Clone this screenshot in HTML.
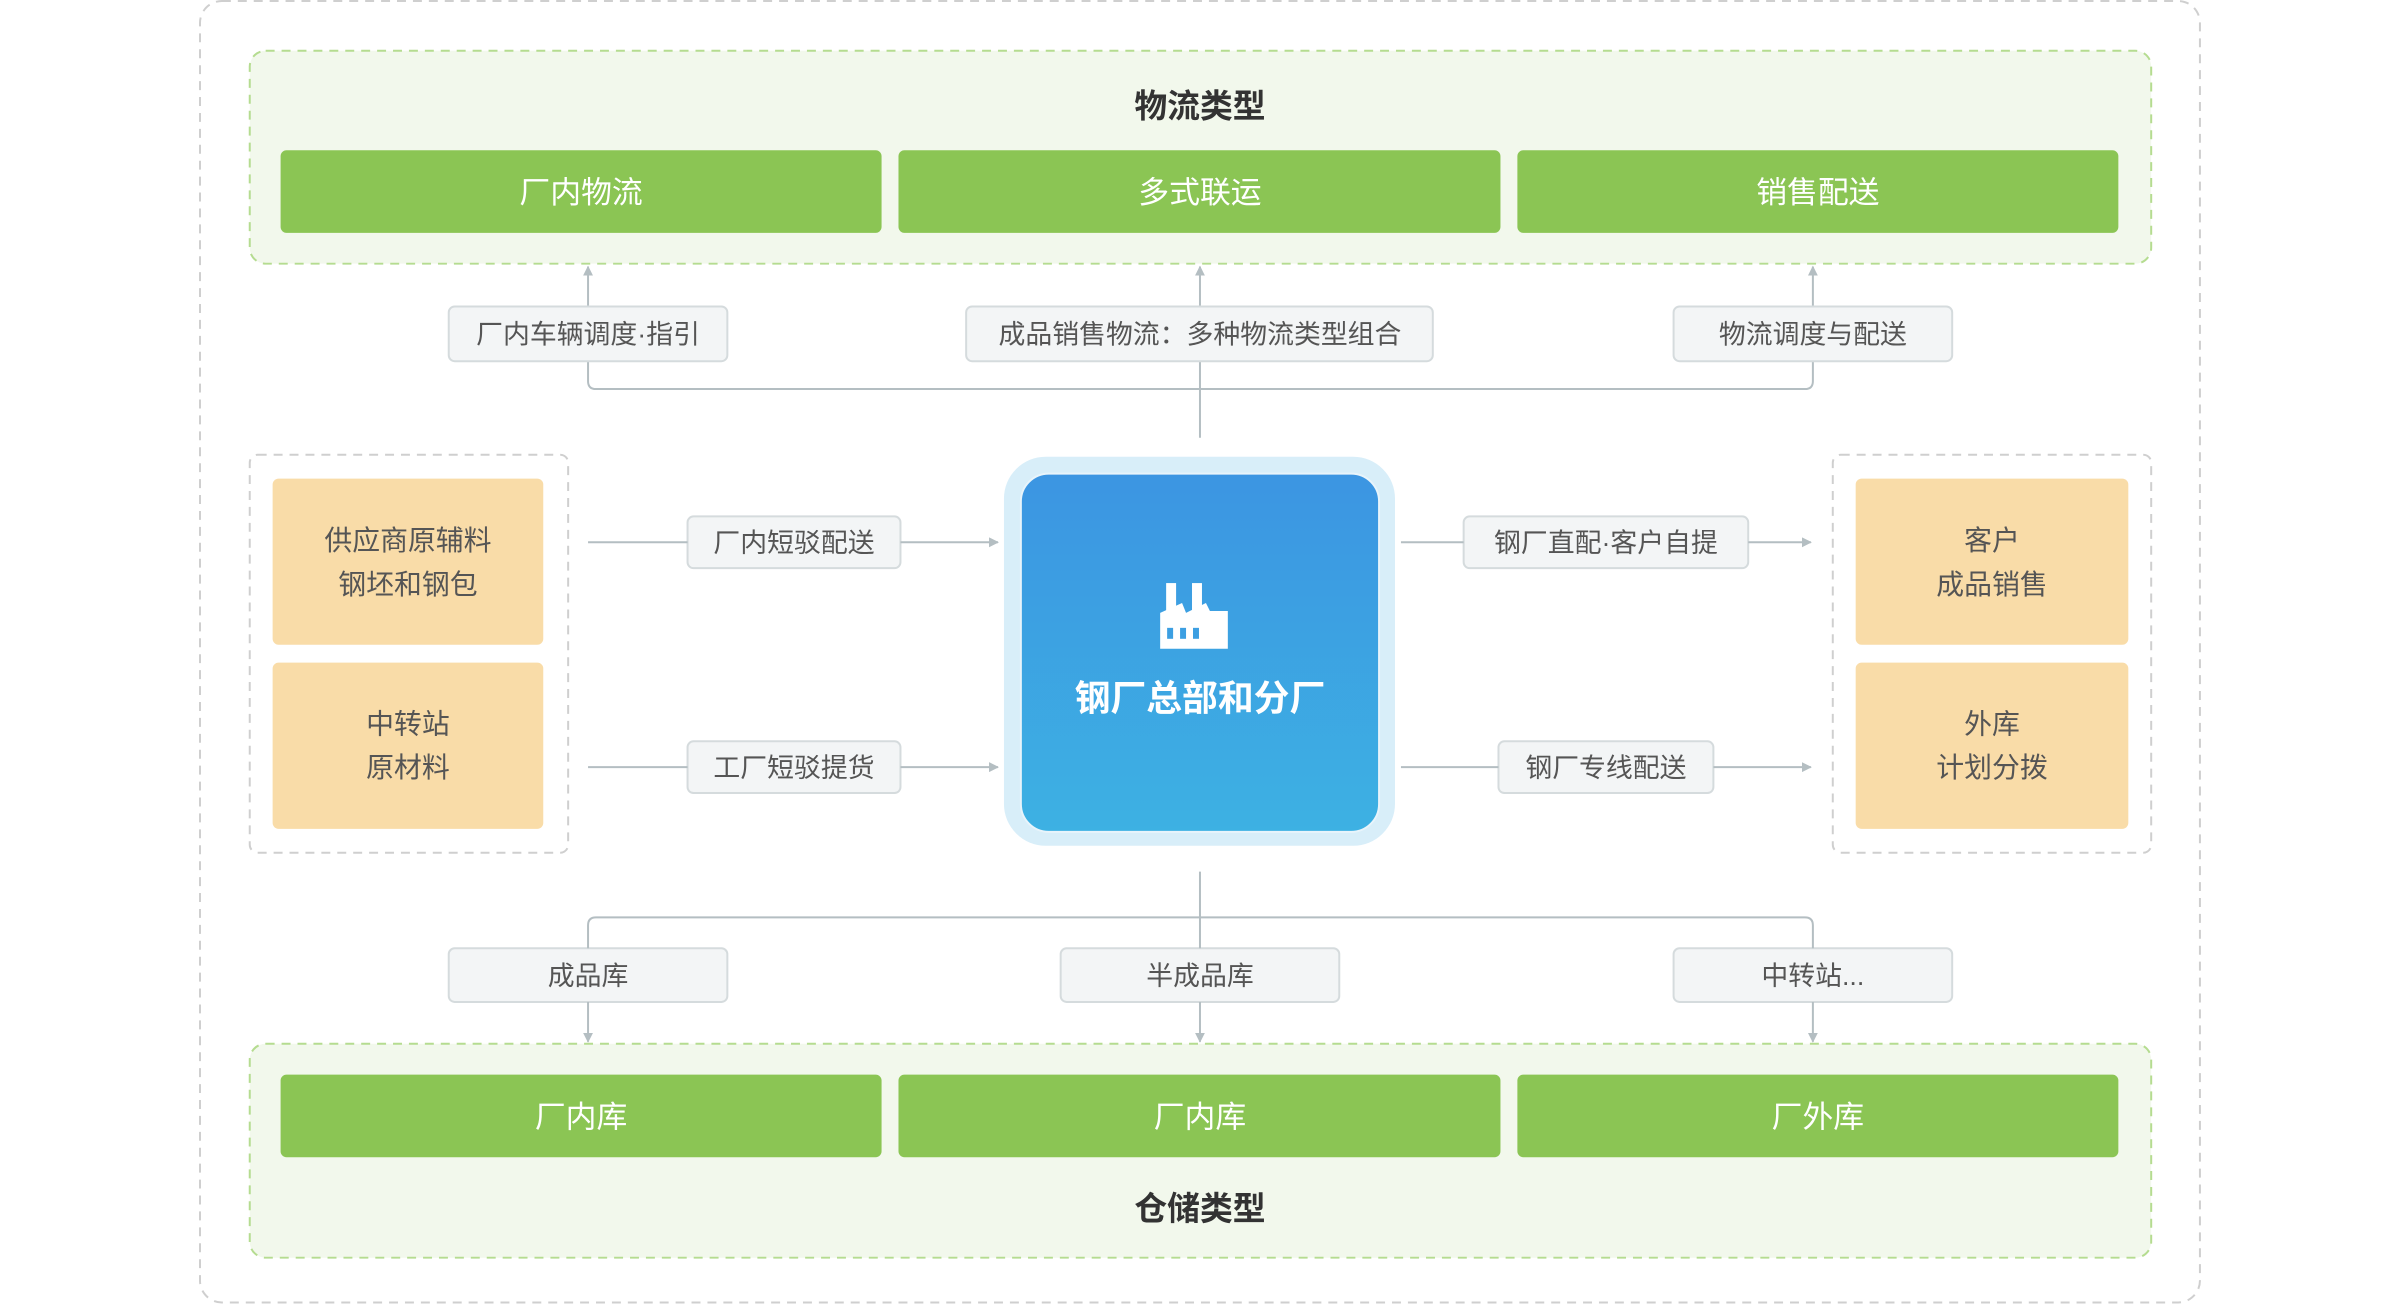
<!DOCTYPE html>
<html><head><meta charset="utf-8"><style>
html,body{margin:0;padding:0;background:#fff;width:2400px;height:1305px;overflow:hidden}
svg text{font-family:"Liberation Sans","Noto Sans CJK SC",sans-serif}
</style></head><body>
<svg width="2400" height="1305" viewBox="0 0 2400 1305" xmlns="http://www.w3.org/2000/svg">
<defs>
<linearGradient id="bg" x1="0" y1="0" x2="0" y2="1"><stop offset="0" stop-color="#3c95e2"/><stop offset="1" stop-color="#3db1e3"/></linearGradient>
<marker id="ar" markerWidth="10" markerHeight="10" refX="9" refY="5" orient="auto" markerUnits="userSpaceOnUse"><path d="M0,0 L10,5 L0,10 z" fill="#b4bec2"/></marker>
</defs>
<g transform="translate(0,2) scale(0.995)">
<rect x="201" y="-1" width="2010" height="1308" rx="22" fill="none" stroke="#cfcfcf" stroke-width="2" stroke-dasharray="9,7"/>
<rect x="251" y="49" width="1911" height="214" rx="16" fill="#f2f8ec" stroke="#b5dc90" stroke-width="2" stroke-dasharray="9,7"/>
<text x="1206" y="116" font-size="33" fill="#333" text-anchor="middle" font-weight="bold">物流类型</text>
<g fill="#8bc554"><rect x="282" y="149" width="604" height="83" rx="6"/><rect x="903" y="149" width="605" height="83" rx="6"/><rect x="1525" y="149" width="604" height="83" rx="6"/></g>
<g font-size="31" fill="#fff" text-anchor="middle"><text x="584" y="202">厂内物流</text><text x="1206" y="202">多式联运</text><text x="1827" y="202">销售配送</text></g>
<g fill="none" stroke="#b4bec2" stroke-width="2">
<path d="M591 306 V266" marker-end="url(#ar)"/><path d="M1206 306 V266" marker-end="url(#ar)"/><path d="M1822 306 V266" marker-end="url(#ar)"/>
<path d="M591 361 V381 Q591 389 599 389 H1814 Q1822 389 1822 381 V361"/><path d="M1206 361 V438"/>
</g>
<g fill="#f3f5f6" stroke="#d5dbdd" stroke-width="2">
<rect x="451" y="306" width="280" height="55" rx="6"/><rect x="971" y="306" width="469" height="55" rx="6"/><rect x="1682" y="306" width="280" height="55" rx="6"/>
<rect x="691" y="517" width="214" height="52" rx="6"/><rect x="691" y="743" width="214" height="52" rx="6"/>
<rect x="1471" y="517" width="286" height="52" rx="6"/><rect x="1506" y="743" width="216" height="52" rx="6"/>
<rect x="451" y="951" width="280" height="54" rx="6"/><rect x="1066" y="951" width="280" height="54" rx="6"/><rect x="1682" y="951" width="280" height="54" rx="6"/>
</g>
<g font-size="27" fill="#555" text-anchor="middle">
<text x="591" y="343">厂内车辆调度·指引</text><text x="1206" y="343">成品销售物流：多种物流类型组合</text><text x="1822" y="343">物流调度与配送</text>
<text x="798" y="553">厂内短驳配送</text><text x="798" y="779">工厂短驳提货</text>
<text x="1614" y="553">钢厂直配·客户自提</text><text x="1614" y="779">钢厂专线配送</text>
<text x="591" y="988">成品库</text><text x="1206" y="988">半成品库</text><text x="1822" y="988">中转站...</text>
</g>
<g fill="none" stroke="#b4bec2" stroke-width="2">
<path d="M591 543 H691"/><path d="M905 543 H1003" marker-end="url(#ar)"/>
<path d="M591 769 H691"/><path d="M905 769 H1003" marker-end="url(#ar)"/>
<path d="M1408 543 H1471"/><path d="M1757 543 H1820" marker-end="url(#ar)"/>
<path d="M1408 769 H1506"/><path d="M1722 769 H1820" marker-end="url(#ar)"/>
<path d="M1206 874 V951"/><path d="M591 951 V928 Q591 920 599 920 H1814 Q1822 920 1822 928 V951"/>
<path d="M591 1005 V1045" marker-end="url(#ar)"/><path d="M1206 1005 V1045" marker-end="url(#ar)"/><path d="M1822 1005 V1045" marker-end="url(#ar)"/>
</g>
<rect x="251" y="455" width="320" height="400" rx="8" fill="none" stroke="#cfcfcf" stroke-width="2" stroke-dasharray="9,7"/>
<rect x="1842" y="455" width="320" height="400" rx="8" fill="none" stroke="#cfcfcf" stroke-width="2" stroke-dasharray="9,7"/>
<g fill="#f9dca8"><rect x="274" y="479" width="272" height="167" rx="6"/><rect x="274" y="664" width="272" height="167" rx="6"/><rect x="1865" y="479" width="274" height="167" rx="6"/><rect x="1865" y="664" width="274" height="167" rx="6"/></g>
<g font-size="28" fill="#555" text-anchor="middle">
<text x="410" y="551">供应商原辅料</text><text x="410" y="595">钢坯和钢包</text>
<text x="410" y="735">中转站</text><text x="410" y="779">原材料</text>
<text x="2002" y="551">客户</text><text x="2002" y="595">成品销售</text>
<text x="2002" y="735">外库</text><text x="2002" y="779">计划分拨</text>
</g>
<rect x="1009" y="457" width="393" height="391" rx="42" fill="#d8eef9"/>
<rect x="1026" y="474" width="360" height="360" rx="28" fill="url(#bg)" stroke="#e8f4fb" stroke-width="2"/>
<g fill="#fff">
<rect x="1172" y="584" width="10" height="30"/><rect x="1198" y="584" width="10" height="30"/>
<path d="M1166 614 L1188 604 L1192 614 L1212 604 L1216 612 L1234 612 L1234 650 L1166 650 Z"/>
</g>
<g fill="#3c9fe2"><rect x="1173" y="629" width="6" height="11"/><rect x="1186" y="629" width="6" height="11"/><rect x="1199" y="629" width="6" height="11"/></g>
<text x="1206" y="712" font-size="36" font-weight="bold" fill="#fff" text-anchor="middle">钢厂总部和分厂</text>
<rect x="251" y="1047" width="1911" height="215" rx="16" fill="#f2f8ec" stroke="#b5dc90" stroke-width="2" stroke-dasharray="9,7"/>
<g fill="#8bc554"><rect x="282" y="1078" width="604" height="83" rx="6"/><rect x="903" y="1078" width="605" height="83" rx="6"/><rect x="1525" y="1078" width="604" height="83" rx="6"/></g>
<g font-size="31" fill="#fff" text-anchor="middle"><text x="584" y="1131">厂内库</text><text x="1206" y="1131">厂内库</text><text x="1827" y="1131">厂外库</text></g>
<text x="1206" y="1224" font-size="33" fill="#333" text-anchor="middle" font-weight="bold">仓储类型</text>
</g>
</svg>
</body></html>
